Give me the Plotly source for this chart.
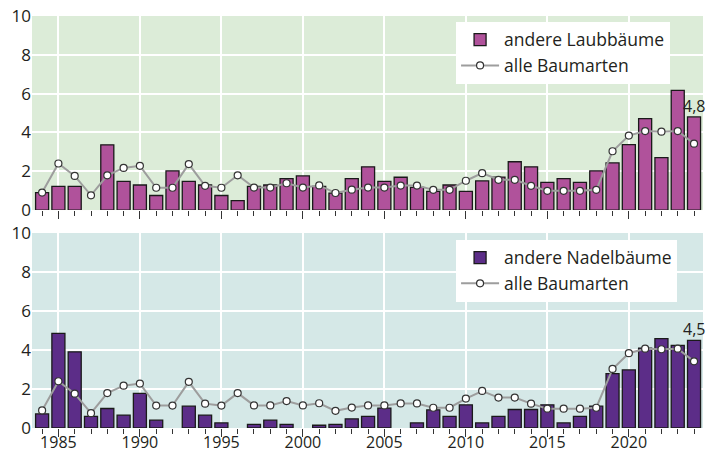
import plotly.graph_objects as go
from plotly.subplots import make_subplots

years = list(range(1984, 2025))

alle_baumarten = [0.9, 2.4, 1.76, 0.76, 1.79, 2.17, 2.28, 1.15, 1.15, 2.37,
                  1.25, 1.15, 1.79, 1.16, 1.16, 1.38, 1.16, 1.27, 0.88, 1.05,
                  1.16, 1.16, 1.26, 1.26, 1.04, 1.04, 1.51, 1.9, 1.56, 1.56,
                  1.25, 0.99, 0.99, 0.99, 1.04, 3.03, 3.84, 4.07, 4.04, 4.07,
                  3.42]

laubbaeume = [0.9, 1.22, 1.22, None, 3.36, 1.48, 1.29, 0.75, 2.02, 1.48,
              1.29, 0.75, 0.49, 1.22, 1.29, 1.62, 1.76, 1.22, 0.87, 1.62,
              2.23, 1.48, 1.69, 1.17, 0.96, 1.29, 0.96, 1.5, 1.7, 2.49,
              2.23, 1.43, 1.62, 1.43, 2.02, 2.43, 3.37, 4.71, 2.7, 6.17,
              4.8]

nadelbaeume = [0.72, 4.86, 3.91, 0.6, 1.0, 0.66, 1.78, 0.4, None, 1.12,
               0.66, 0.26, None, 0.19, 0.4, 0.19, None, 0.14, 0.19, 0.47,
               0.6, 1.02, None, 0.26, 0.93, 0.6, 1.19, 0.26, 0.6, 0.95,
               0.95, 1.19, 0.26, 0.6, 1.12, 2.79, 2.98, 4.1, 4.59, 4.24,
               4.5]

label_laub = "4,8"
label_nadel = "4,5"

FONT = "Open Sans"
TXT = "#231f20"
LAUB_COL = "#b0529b"
NADEL_COL = "#5c2d88"
LINE_COL = "#9d9d9d"

fig = make_subplots(rows=2, cols=1, shared_xaxes=False, vertical_spacing=0.056)

fig.add_trace(go.Bar(x=years, y=laubbaeume, name="andere Laubbäume",
                     marker=dict(color=LAUB_COL, line=dict(color="#1a1a1a", width=1.3)),
                     width=0.8, legend="legend"), row=1, col=1)
fig.add_trace(go.Scatter(x=years, y=alle_baumarten, name="alle Baumarten", mode="lines+markers",
                         line=dict(color=LINE_COL, width=2),
                         marker=dict(color="white", size=7, line=dict(color="#333333", width=1.2)),
                         legend="legend"), row=1, col=1)
fig.add_trace(go.Bar(x=years, y=nadelbaeume, name="andere Nadelbäume",
                     marker=dict(color=NADEL_COL, line=dict(color="#1a1a1a", width=1.3)),
                     width=0.8, legend="legend2"), row=2, col=1)
fig.add_trace(go.Scatter(x=years, y=alle_baumarten, name="alle Baumarten", mode="lines+markers",
                         line=dict(color=LINE_COL, width=2),
                         marker=dict(color="white", size=7, line=dict(color="#333333", width=1.2)),
                         legend="legend2"), row=2, col=1)

fig.add_annotation(x=years[-1], y=laubbaeume[-1], text=label_laub, showarrow=False,
                   yanchor="bottom", xanchor="center", yshift=-2,
                   font=dict(family=FONT, size=16, color=TXT), xref="x", yref="y")
fig.add_annotation(x=years[-1], y=nadelbaeume[-1], text=label_nadel, showarrow=False,
                   yanchor="bottom", xanchor="center", yshift=-2,
                   font=dict(family=FONT, size=16, color=TXT), xref="x2", yref="y2")

xcommon = dict(range=[1983.38, 2024.55], tick0=1985, dtick=5, showgrid=True,
               gridcolor="white", gridwidth=1.5, zeroline=False, showline=False,
               ticks="outside", ticklen=8, tickcolor="#333333", tickwidth=1,
               minor=dict(dtick=1, tick0=1984, ticks="outside", ticklen=5,
                          tickcolor="#333333", tickwidth=1, showgrid=False),
               tickfont=dict(family=FONT, size=16, color=TXT), automargin=False,
               ticklabelstandoff=-8)
ycommon = dict(range=[0, 10], dtick=2, showgrid=True, gridcolor="white", gridwidth=1.5,
               zeroline=False, showline=False, ticks="", automargin=False,
               tickfont=dict(family=FONT, size=17, color=TXT))

fig.update_xaxes(**xcommon, showticklabels=False, row=1, col=1)
fig.update_xaxes(**xcommon, showticklabels=True, row=2, col=1)
fig.update_yaxes(**ycommon, row=1, col=1)
fig.update_yaxes(**ycommon, row=2, col=1)

fig.update_layout(
    width=714, height=454,
    margin=dict(l=32, r=11, t=16, b=26, autoexpand=False),
    paper_bgcolor="white",
    plot_bgcolor="#dcecd8",
    showlegend=True,
    bargap=0.2,
    font=dict(family=FONT, size=17, color=TXT),
    legend=dict(x=0.632, y=0.986, xanchor="left", yanchor="top", bgcolor="white",
                borderwidth=0, font=dict(family=FONT, size=17.5, color=TXT),
                itemwidth=38, tracegroupgap=0),
    legend2=dict(x=0.632, y=0.457, xanchor="left", yanchor="top", bgcolor="white",
                 borderwidth=0, font=dict(family=FONT, size=17.5, color=TXT),
                 itemwidth=38, tracegroupgap=0),
)
fig.update_yaxes(domain=[0.529, 1.0], row=1, col=1)
fig.update_yaxes(domain=[0.0, 0.473], row=2, col=1)
fig.add_shape(type="rect", xref="x2 domain", yref="y2 domain", x0=0, x1=1, y0=0, y1=1,
              fillcolor="#d5e8e7", line=dict(width=0), layer="below")

fig.write_html("out.html", config={"displayModeBar": False},
               post_script="document.body.style.margin='0px';document.body.style.overflow='hidden';")
